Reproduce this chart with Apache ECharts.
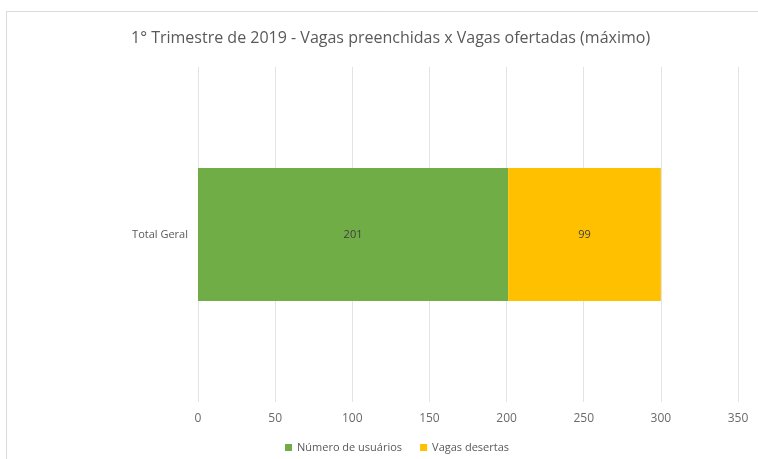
<!DOCTYPE html>
<html>
<head>
<meta charset="utf-8">
<script src="https://cdn.jsdelivr.net/npm/echarts@6/dist/echarts.min.js"></script>
<style>
html, body { margin: 0; padding: 0; background: #fff; }
#chart { width: 758px; height: 459px; }
</style>
</head>
<body>
<div id="chart"></div>
<script>
var categories = ['Total Geral'];
var seriesNames = ['Número de usuários', 'Vagas desertas'];
var usuarios = [201];
var desertas = [99];

var fontFam = '"Open Sans", "Liberation Sans", sans-serif';
var myChart = echarts.init(document.getElementById('chart'));
var option = {
    backgroundColor: '#fff',
    animation: false,
    title: {
        text: '1° Trimestre de 2019 - Vagas preenchidas x Vagas ofertadas (máximo)',
        left: 126,
        top: 25,
        textStyle: {
            color: '#595959',
            fontSize: 16,
            fontWeight: 'normal',
            fontFamily: fontFam
        }
    },
    graphic: [{
        type: 'rect',
        shape: { x: 6.5, y: 11.5, width: 800, height: 500 },
        style: { fill: 'none', stroke: '#d9d9d9', lineWidth: 1 },
        silent: true
    }],
    legend: {
        bottom: 1,
        left: 280,
        itemWidth: 7,
        itemHeight: 7,
        itemGap: 18,
        icon: 'rect',
        textStyle: { color: '#595959', fontSize: 11, fontFamily: fontFam },
        data: seriesNames
    },
    grid: {
        left: 198,
        right: 20,
        top: 67,
        bottom: 57
    },
    xAxis: {
        type: 'value',
        min: 0,
        max: 350,
        interval: 50,
        axisLine: { show: false },
        axisTick: { show: false },
        axisLabel: { color: '#6a6a6a', fontSize: 12, margin: 11, fontFamily: fontFam },
        splitLine: { lineStyle: { color: '#e3e3e3' } }
    },
    yAxis: {
        type: 'category',
        data: categories,
        axisLine: { show: false },
        axisTick: { show: false },
        axisLabel: { color: '#595959', fontSize: 11, margin: 10, fontFamily: fontFam }
    },
    series: [
        {
            name: seriesNames[0],
            type: 'bar',
            stack: 'total',
            barWidth: 133,
            itemStyle: { color: '#70ad47' },
            label: { show: true, position: 'inside', color: '#404040', fontSize: 11, fontFamily: fontFam },
            data: usuarios
        },
        {
            name: seriesNames[1],
            type: 'bar',
            stack: 'total',
            barWidth: 133,
            itemStyle: { color: '#ffc000' },
            label: { show: true, position: 'inside', color: '#404040', fontSize: 11, fontFamily: fontFam },
            data: desertas
        }
    ]
};
myChart.setOption(option);
</script>
</body>
</html>
